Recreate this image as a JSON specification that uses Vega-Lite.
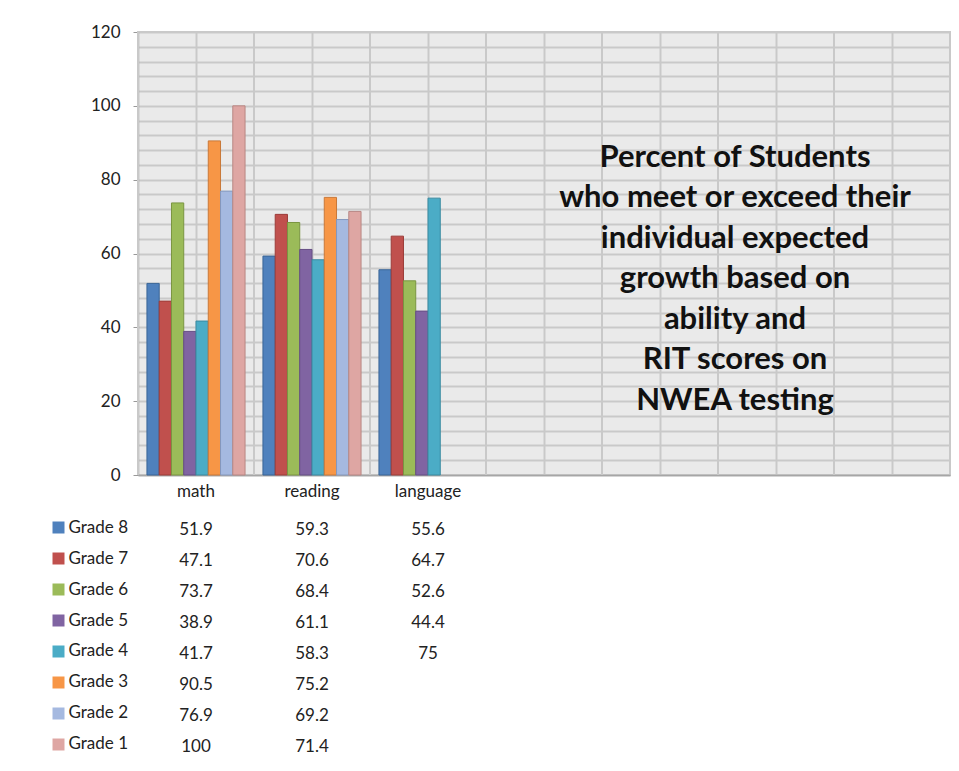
{
  "$schema": "https://vega.github.io/schema/vega-lite/v6.json",
  "background": "white",
  "padding": {"left": 46, "top": 22, "right": 0, "bottom": 0},
  "config": {
    "font": "Lato",
    "view": {"stroke": null},
    "axis": {"labelFont": "Lato", "labelFontSize": 17, "labelColor": "#222222", "titleFont": "Lato"}
  },
  "datasets": {
    "scores": [
      {"grade": "Grade  8", "subject": "math", "value": 51.9},
      {"grade": "Grade  8", "subject": "reading", "value": 59.3},
      {"grade": "Grade  8", "subject": "language", "value": 55.6},
      {"grade": "Grade 7", "subject": "math", "value": 47.1},
      {"grade": "Grade 7", "subject": "reading", "value": 70.6},
      {"grade": "Grade 7", "subject": "language", "value": 64.7},
      {"grade": "Grade 6", "subject": "math", "value": 73.7},
      {"grade": "Grade 6", "subject": "reading", "value": 68.4},
      {"grade": "Grade 6", "subject": "language", "value": 52.6},
      {"grade": "Grade 5", "subject": "math", "value": 38.9},
      {"grade": "Grade 5", "subject": "reading", "value": 61.1},
      {"grade": "Grade 5", "subject": "language", "value": 44.4},
      {"grade": "Grade 4", "subject": "math", "value": 41.7},
      {"grade": "Grade 4", "subject": "reading", "value": 58.3},
      {"grade": "Grade 4", "subject": "language", "value": 75},
      {"grade": "Grade 3", "subject": "math", "value": 90.5},
      {"grade": "Grade 3", "subject": "reading", "value": 75.2},
      {"grade": "Grade 2", "subject": "math", "value": 76.9},
      {"grade": "Grade 2", "subject": "reading", "value": 69.2},
      {"grade": "Grade 1", "subject": "math", "value": 100},
      {"grade": "Grade 1", "subject": "reading", "value": 71.4}
    ],
    "categories": [
      {"subject": "math"}, {"subject": "reading"}, {"subject": "language"},
      {"subject": "c4"}, {"subject": "c5"}, {"subject": "c6"}, {"subject": "c7"}
    ]
  },
  "vconcat": [
    {
      "width": 812,
      "height": 443,
      "view": {"fill": "#EAEAEA", "stroke": "#C9C9C9", "strokeWidth": 2},
      "layer": [
        {
          "data": {"name": "categories"},
          "mark": {"type": "rule", "color": "#C9C9C9", "strokeWidth": 2},
          "encoding": {
            "x": {"field": "subject", "type": "nominal", "bandPosition": 0}
          }
        },
        {
          "data": {"name": "scores"},
          "mark": {"type": "bar", "strokeWidth": 1},
          "encoding": {
            "x": {
              "field": "subject", "type": "nominal", "sort": null,
              "scale": {"domain": ["math", "reading", "language", "c4", "c5", "c6", "c7"], "paddingInner": 0, "paddingOuter": 0},
              "axis": {
                "title": null, "labelAngle": 0, "labelAlign": "center", "ticks": false,
                "grid": true, "gridColor": "#C9C9C9", "gridWidth": 2,
                "domainColor": "#A6A6A6", "domainWidth": 1.5, "labelPadding": 16,
                "labelExpr": "indexof(['math','reading','language'], datum.value) >= 0 ? datum.value : ''"
              }
            },
            "xOffset": {
              "field": "grade", "type": "nominal",
              "scale": {"domain": ["Grade  8", "Grade 7", "Grade 6", "Grade 5", "Grade 4", "Grade 3", "Grade 2", "Grade 1"], "paddingInner": 0, "paddingOuter": 0.73}
            },
            "y": {
              "field": "value", "type": "quantitative",
              "scale": {"domain": [0, 120], "nice": false},
              "axis": {
                "title": null,
                "values": [0,4,8,12,16,20,24,28,32,36,40,44,48,52,56,60,64,68,72,76,80,84,88,92,96,100,104,108,112,116,120],
                "labelExpr": "datum.value % 20 === 0 ? datum.label : ''",
                "labelOverlap": false,
                "tickOpacity": {"condition": {"test": "datum.value % 20 === 0", "value": 1}, "value": 0},
                "tickSize": 5, "tickColor": "#999999", "domainColor": "#A6A6A6", "domainWidth": 1.5,
                "gridColor": "#C9C9C9", "gridWidth": 2, "labelPadding": 13
              }
            },
            "color": {
              "field": "grade", "type": "nominal", "legend": null,
              "scale": {"domain": ["Grade  8", "Grade 7", "Grade 6", "Grade 5", "Grade 4", "Grade 3", "Grade 2", "Grade 1"],
                        "range": ["#4F81BD", "#C0504D", "#9BBB59", "#8064A2", "#4BACC6", "#F79646", "#A5B9E0", "#DEA6A3"]}
            },
            "stroke": {
              "field": "grade", "type": "nominal", "legend": null,
              "scale": {"domain": ["Grade  8", "Grade 7", "Grade 6", "Grade 5", "Grade 4", "Grade 3", "Grade 2", "Grade 1"],
                        "range": ["#3A6597", "#9C3C39", "#7A9541", "#654E84", "#3A8AA0", "#C97838", "#8598BD", "#B88784"]}
            }
          }
        },
        {
          "data": {"values": [{}]},
          "mark": {
            "type": "text", "font": "Lato", "fontSize": 31, "fontWeight": "bold", "color": "#111111",
            "align": "center", "baseline": "middle", "lineHeight": 40.5, "dx": -41,
            "text": ["Percent of Students", "who meet or exceed their", "individual expected", "growth based on", "ability and", "RIT scores on", "NWEA testing"]
          },
          "encoding": {
            "x": {"datum": "c6", "type": "nominal"},
            "y": {
              "datum": 86, "type": "quantitative",
              "axis": {
                "title": null,
                "values": [0,4,8,12,16,20,24,28,32,36,40,44,48,52,56,60,64,68,72,76,80,84,88,92,96,100,104,108,112,116,120],
                "labelExpr": "datum.value % 20 === 0 ? datum.label : ''",
                "labelOverlap": false,
                "tickOpacity": {"condition": {"test": "datum.value % 20 === 0", "value": 1}, "value": 0},
                "tickSize": 5, "tickColor": "#999999", "domainColor": "#A6A6A6", "domainWidth": 1.5,
                "gridColor": "#C9C9C9", "gridWidth": 2, "labelPadding": 13
              }
            }
          }
        }
      ]
    },
    {
      "width": 812,
      "height": 247,
      "data": {"name": "scores"},
      "mark": {"type": "text", "font": "Lato", "fontSize": 17, "color": "#222222"},
      "encoding": {
        "x": {
          "field": "subject", "type": "nominal",
          "scale": {"domain": ["math", "reading", "language", "c4", "c5", "c6", "c7"], "paddingInner": 0, "paddingOuter": 0},
          "axis": null
        },
        "y": {
          "field": "grade", "type": "nominal",
          "scale": {"domain": ["Grade  8", "Grade 7", "Grade 6", "Grade 5", "Grade 4", "Grade 3", "Grade 2", "Grade 1"], "paddingInner": 0, "paddingOuter": 0},
          "axis": {
            "title": null, "orient": "left", "offset": 74, "domain": false, "grid": false,
            "tickSize": 12, "tickWidth": 12, "tickOffset": -3, "labelAlign": "left", "labelPadding": -16,
            "labelFontSize": 17, "labelColor": "#222222",
            "tickColor": {"expr": "datum.value === 'Grade  8' ? '#4F81BD' : datum.value === 'Grade 7' ? '#C0504D' : datum.value === 'Grade 6' ? '#9BBB59' : datum.value === 'Grade 5' ? '#8064A2' : datum.value === 'Grade 4' ? '#4BACC6' : datum.value === 'Grade 3' ? '#F79646' : datum.value === 'Grade 2' ? '#A5B9E0' : '#DEA6A3'"}
          }
        },
        "text": {"field": "value", "type": "nominal"}
      }
    }
  ],
  "spacing": 15
}
